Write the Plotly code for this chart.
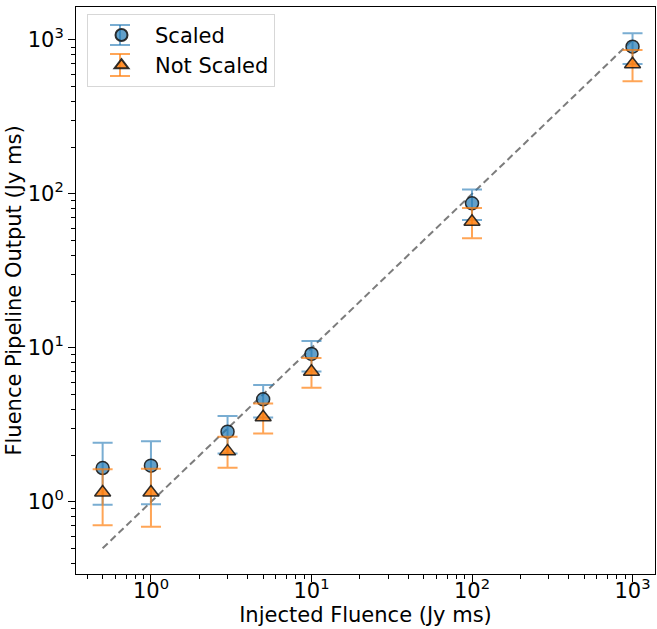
import plotly.graph_objects as go

injected = [0.5, 1, 3, 5, 10, 100, 1000]

scaled = [1.66, 1.72, 2.86, 4.64, 9.14, 87, 905]
scaled_hi = [2.42, 2.48, 3.62, 5.75, 11.1, 107, 1105]
scaled_lo = [0.957, 0.966, 2.06, 3.53, 7.02, 67.8, 698]

not_scaled = [1.15, 1.15, 2.13, 3.55, 7.0, 66, 695]
not_scaled_hi = [1.63, 1.64, 2.65, 4.35, 8.61, 81, 861]
not_scaled_lo = [0.706, 0.689, 1.67, 2.78, 5.52, 51.5, 540]

line_x = [0.5, 1000]
line_y = [0.5, 1000]

tick_vals = [1, 10, 100, 1000]
tick_text = ["10<sup>0</sup>", "10<sup>1</sup>", "10<sup>2</sup>", "10<sup>3</sup>"]

BLUE_M = "rgba(31,119,180,0.7)"
BLUE_E = "rgba(31,119,180,0.6)"
ORANGE_M = "rgba(255,127,14,0.85)"
ORANGE_E = "rgba(255,127,14,0.7)"
FONT = "DejaVu Sans"
FS = 21

W, H = 657, 629
ML, MR, MT, MB = 76, 2, 7, 55
PW, PH = W - ML - MR, H - MT - MB

fig = go.Figure()
fig.add_trace(go.Scatter(
    x=line_x, y=line_y, mode="lines",
    line=dict(color="rgba(110,110,110,0.9)", width=2, dash="7px,4px"),
    showlegend=False, hoverinfo="skip"))

fig.add_trace(go.Scatter(
    x=injected, y=scaled, mode="markers", name="Scaled",
    marker=dict(symbol="circle", size=13, color=BLUE_M,
                line=dict(color="rgba(25,25,25,0.9)", width=1.5)),
    error_y=dict(type="data", symmetric=False,
                 array=[h - v for h, v in zip(scaled_hi, scaled)],
                 arrayminus=[v - l for v, l in zip(scaled, scaled_lo)],
                 color=BLUE_E, thickness=2, width=10)))

fig.add_trace(go.Scatter(
    x=injected, y=not_scaled, mode="markers", name="Not Scaled",
    marker=dict(symbol="triangle-up", size=14, color=ORANGE_M,
                line=dict(color="rgba(25,25,25,0.9)", width=1.5)),
    error_y=dict(type="data", symmetric=False,
                 array=[h - v for h, v in zip(not_scaled_hi, not_scaled)],
                 arrayminus=[v - l for v, l in zip(not_scaled, not_scaled_lo)],
                 color=ORANGE_E, thickness=2, width=10)))

# error-bar glyphs for the legend entries (decoration behind legend markers)
def px_x(p):
    return (p - ML) / PW

def px_y(p):
    return (H - MB - p) / PH

legend_glyphs = [(35, 10, BLUE_E), (65, 11, ORANGE_E)]
legend_mx = 120
for cy, half, col in legend_glyphs:
    fig.add_shape(type="line", xref="paper", yref="paper",
                  x0=px_x(legend_mx), x1=px_x(legend_mx), y0=px_y(cy - half), y1=px_y(cy + half),
                  line=dict(color=col, width=2), layer="above")
    for yy in (cy - half, cy + half):
        fig.add_shape(type="line", xref="paper", yref="paper",
                      x0=px_x(legend_mx - 10), x1=px_x(legend_mx + 10), y0=px_y(yy), y1=px_y(yy),
                      line=dict(color=col, width=2), layer="above")

axis_common = dict(
    type="log", showgrid=False, zeroline=False, automargin=False,
    showline=True, linecolor="black", linewidth=1, mirror=True,
    ticks="outside", ticklen=7, tickwidth=1, tickcolor="black",
    tickvals=tick_vals, ticktext=tick_text,
    tickfont=dict(family=FONT, size=FS, color="black"),
    minor=dict(ticks="outside", ticklen=4, tickcolor="black", tickwidth=1,
               dtick="D1", showgrid=False),
)

fig.update_layout(
    width=W, height=H,
    margin=dict(l=ML, r=MR, t=MT, b=MB, pad=0),
    paper_bgcolor="white", plot_bgcolor="white",
    font=dict(family=FONT, size=FS, color="black"),
    xaxis=dict(axis_common, range=[-0.467, 3.14], ticklabelstandoff=-9,
               title=dict(text="Injected Fluence (Jy ms)", font=dict(family=FONT, size=FS), standoff=0)),
    yaxis=dict(axis_common, range=[-0.468, 3.214],
               title=dict(text="Fluence Pipeline Output (Jy ms)", font=dict(family=FONT, size=FS), standoff=0)),
    legend=dict(x=0.019, y=0.988, xanchor="left", yanchor="top",
                bgcolor="rgba(255,255,255,0)", bordercolor="rgb(215,215,215)", borderwidth=1,
                font=dict(family=FONT, size=FS), itemsizing="constant",
                itemwidth=57),
    showlegend=True,
)

fig.write_html("out.html", config={"displayModeBar": False},
               post_script="document.body.style.margin='0';document.body.style.overflow='hidden';")
